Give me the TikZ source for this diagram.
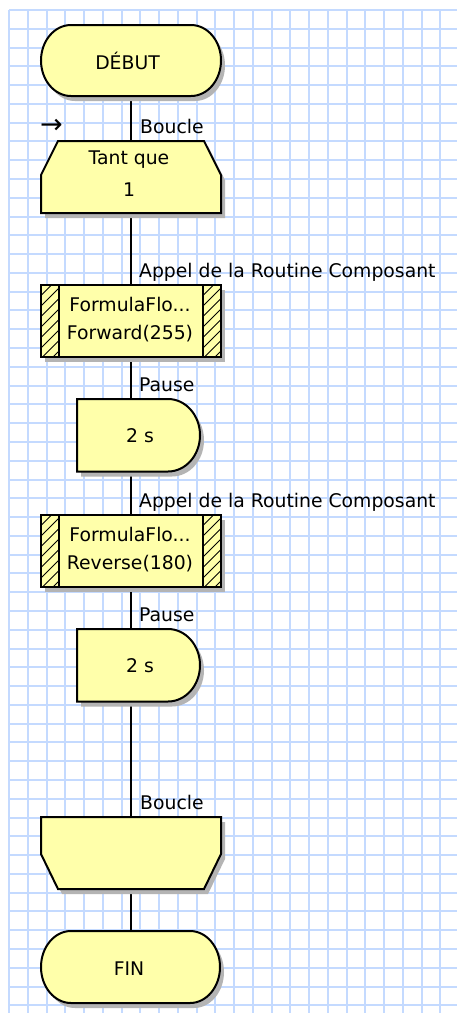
\documentclass[tikz,border=0pt]{standalone}
\usepackage{fontspec}
\setmainfont{DejaVu Sans}
\usetikzlibrary{shadows}
\definecolor{gridblue}{RGB}{196,218,255}
\definecolor{boxfill}{RGB}{255,255,170}
\definecolor{shadowgrey}{RGB}{180,180,180}
\newcommand{\mainfnt}{\fontsize{18.8}{22}\selectfont}
\pgfdeclarelayer{grid}
\pgfdeclarelayer{shapes}
\pgfsetlayers{grid,shapes,main}
\tikzset{
  gridline/.style={draw=gridblue, line width=2pt},
  shadowed/.style={drop shadow={shadow xshift=4pt, shadow yshift=-5pt, fill=shadowgrey, opacity=1}},
  shapeline/.style={shadowed, fill=boxfill, draw=black, line width=2pt, line join=miter},
  shapefill/.style={shadowed, fill=boxfill},
  border/.style={draw=black, line width=2pt, line join=miter},
  hatch/.style={draw=black, line width=1pt},
  flow/.style={draw=black, line width=2pt},
  holder/.style={rectangle, inner sep=0pt, outer sep=0pt},
  txt/.style={inner sep=0pt, font=\mainfnt, text=black, align=center},
  lbl/.style={inner sep=0pt, anchor=base west, font=\mainfnt, text=black},
  marker/.style={inner sep=0pt, font=\fontsize{27}{30}\selectfont, text=black},
}
\begin{document}
\begin{tikzpicture}[x=1pt, y=-1pt]
\useasboundingbox (0,0) rectangle (457,1013);

% ---- blocks of the flowchart ----
\node[holder, minimum width=180pt, minimum height=71pt,
      label={[txt, xshift=-3.5pt]center:DÉBUT}] (debut) at (131,60.5) {};
\node[holder, minimum width=180pt, minimum height=72pt,
      label={[txt, xshift=-2pt, yshift=3pt]center:{Tant que\\[10pt]1}}] (tantque) at (131,177) {};
\node[holder, minimum width=180pt, minimum height=72pt,
      label={[txt, xshift=-1pt, yshift=1pt]center:{FormulaFlo...\\[6pt]Forward(255)}}] (call1) at (131,321) {};
\node[holder, minimum width=123pt, minimum height=72.5pt,
      label={[txt, xshift=1.5pt]center:2 s}] (pause1) at (138.5,435.25) {};
\node[holder, minimum width=180pt, minimum height=72pt,
      label={[txt, xshift=-1pt, yshift=1pt]center:{FormulaFlo...\\[6pt]Reverse(180)}}] (call2) at (131,551) {};
\node[holder, minimum width=123pt, minimum height=72.5pt,
      label={[txt, xshift=1.5pt]center:2 s}] (pause2) at (138.5,665.25) {};
\node[holder, minimum width=180pt, minimum height=72pt] (loopend) at (131,853) {};
\node[holder, minimum width=179pt, minimum height=72pt,
      label={[txt, xshift=-1.5pt, yshift=-2pt]center:FIN}] (fin) at (130.5,967) {};

% ---- labels above the blocks ----
\node[marker] (entry) at (51.5,126) {→};
\path (tantque.north) ++(9,-7.5) node[lbl] (lb-boucle1) {Boucle};
\path (call1.north) ++(8,-7.5) node[lbl] (lb-appel1) {Appel de la Routine Composant};
\path (call1.south |- pause1.north) ++(8,-7.5) node[lbl] (lb-pause1) {Pause};
\path (call2.north) ++(8,-7.5) node[lbl] (lb-appel2) {Appel de la Routine Composant};
\path (call2.south |- pause2.north) ++(8,-7.5) node[lbl] (lb-pause2) {Pause};
\path (loopend.north) ++(9,-7.5) node[lbl] (lb-boucle2) {Boucle};

% ---- squared paper ----
\begin{pgfonlayer}{grid}
  \fill[white] (0,0) rectangle (457,1013);
  \foreach \i in {0,...,23}
    \draw[gridline] ({9+\i*18.75},10) -- ({9+\i*18.75},1013);
  \foreach \j in {0,...,53}
    \draw[gridline] (9,{10+\j*18.78}) -- (457,{10+\j*18.78});
\end{pgfonlayer}

\begin{pgfonlayer}{shapes}
  % connectors
  \draw[flow] (debut.south) -- (tantque.north);
  \draw[flow] (tantque.south) -- (call1.north);
  \draw[flow] (call1.south) -- (call1.south |- pause1.north);
  \draw[flow] (call1.south |- pause1.south) -- (call2.north);
  \draw[flow] (call2.south) -- (call2.south |- pause2.north);
  \draw[flow] (call2.south |- pause2.south) -- (loopend.north);
  \draw[flow] (loopend.south) -- (loopend.south |- fin.north);

  % start terminal
  \path[shapeline] ([xshift=30pt]debut.north west) -- ([xshift=-30pt]debut.north east)
    arc[start angle=-90, end angle=90, x radius=30, y radius=35.5]
    -- ([xshift=30pt]debut.south west)
    arc[start angle=90, end angle=270, x radius=30, y radius=35.5] -- cycle;

  % loop head
  \path[shapeline] ([xshift=17pt]tantque.north west) -- ([xshift=-17pt]tantque.north east)
    -- ([yshift=-34pt]tantque.north east) -- (tantque.south east)
    -- (tantque.south west) -- ([yshift=-34pt]tantque.north west) -- cycle;

  % component macro calls
  \foreach \c in {call1,call2} {
    \path[shapefill] (\c.north west) rectangle (\c.south east);
    \begin{scope}
      \clip (\c.north west) rectangle ([xshift=18pt]\c.south west);
      \foreach \k in {0,...,9}
        \draw[hatch] ([yshift=-\k*10.5pt]\c.north west) -- ++(20,-20);
    \end{scope}
    \begin{scope}
      \clip ([xshift=-18pt]\c.north east) rectangle (\c.south east);
      \foreach \k in {0,...,9}
        \draw[hatch] ([xshift=-18pt, yshift=-\k*10.5pt]\c.north east) -- ++(20,-20);
    \end{scope}
    \draw[border] (\c.north west) rectangle (\c.south east);
    \draw[border] ([xshift=18pt]\c.north west) -- ([xshift=18pt]\c.south west);
    \draw[border] ([xshift=-18pt]\c.north east) -- ([xshift=-18pt]\c.south east);
  }

  % delays
  \foreach \p in {pause1,pause2} {
    \path[shapeline] (\p.north west) -- ([xshift=-32pt]\p.north east)
      arc[start angle=-90, end angle=90, x radius=32, y radius=36.25]
      -- (\p.south west) -- cycle;
  }

  % loop end
  \path[shapeline] (loopend.north west) -- (loopend.north east)
    -- ([yshift=-37pt]loopend.north east) -- ([xshift=-17pt]loopend.south east)
    -- ([xshift=17pt]loopend.south west) -- ([yshift=-37pt]loopend.north west) -- cycle;

  % end terminal
  \path[shapeline] ([xshift=30pt]fin.north west) -- ([xshift=-30pt]fin.north east)
    arc[start angle=-90, end angle=90, x radius=30, y radius=36]
    -- ([xshift=30pt]fin.south west)
    arc[start angle=90, end angle=270, x radius=30, y radius=36] -- cycle;
\end{pgfonlayer}
\end{tikzpicture}
\end{document}
